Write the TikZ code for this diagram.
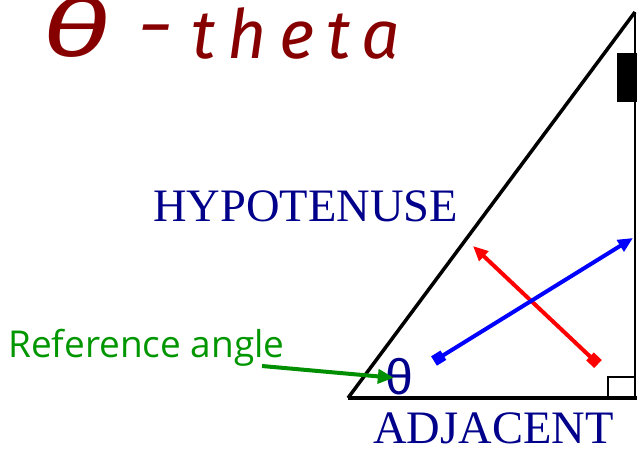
\documentclass[tikz,border=0pt]{standalone}
\usepackage{fontspec}
\setmainfont{Liberation Serif}
\newfontfamily\thetafont{Liberation Sans}
\newfontfamily\notefont{Open Sans}
\newfontfamily\handfont{Fira Sans}[LetterSpace=18]
\newfontfamily\handthetafont{Fira Sans}
\usetikzlibrary{arrows.meta}
\definecolor{sidenavy}{RGB}{0,0,139}
\definecolor{notegreen}{RGB}{0,150,0}
\definecolor{inkred}{RGB}{135,0,0}
\tikzset{
  sidelabel/.style={text=sidenavy,font=\fontsize{46.5}{50}\selectfont,inner sep=0pt},
  handtext/.style={text=inkred,inner sep=0pt},
  pointer/.style={line width=4pt,-{Triangle[length=16pt,width=14pt]}},
  twoway/.style={line width=4pt,{Triangle[length=15pt,width=13pt]}-{Square[length=11pt,width=11pt]}}
}
\begin{document}
\begin{tikzpicture}[x=1pt,y=-1pt]
  \clip (0,0) rectangle (637,450);
  % triangle
  \coordinate (A) at (348,398);
  \coordinate (B) at (637,398);
  \coordinate (C) at (635,12);
  \coordinate (D) at (635,398);
  \draw[line width=3.5pt] (A) -- (C);
  \draw[line width=2.5pt] (C) -- (D);
  \draw[line width=4.5pt] (A) -- (B);
  \fill (617,53) rectangle (640,102);
  \draw[line width=1.5pt] (608,377) rectangle (D);
  % labels
  \node[sidelabel,anchor=base west] (hyp) at (153,221) {HYPOTENUSE};
  \node[sidelabel,anchor=base west] (adj) at (373,443) {ADJACENT};
  \node[text=sidenavy,font=\thetafont\fontsize{50}{54}\selectfont,inner sep=0pt] (theta) at (399,377) {θ};
  \node[text=notegreen,font=\notefont\fontsize{37}{40}\selectfont,inner sep=0pt,anchor=base west] (note) at (8,357) {Reference angle};
  % handwriting
  \node[handtext,font=\handthetafont\itshape\fontsize{80}{80}\selectfont,xscale=1.5,anchor=base] (hth) at (76,56) {θ};
  \node[handtext,font=\handthetafont\itshape\fontsize{70}{70}\selectfont,xscale=1.3,anchor=base] (dash) at (156,49) {-};
  \node[handtext,font=\handfont\itshape\fontsize{68}{68}\selectfont,anchor=base west] (word) at (191,58) {theta};
  % arrows
  \coordinate (g1) at (262,366);
  \coordinate (r1) at (473,246);
  \coordinate (r2) at (598,364);
  \coordinate (b1) at (434,361);
  \coordinate (b2) at (633,238);
  \draw[pointer,notegreen!95!black,shorten >=-9pt] (g1) -- (theta.west);
  \draw[twoway,red] (r1) -- (r2);
  \draw[twoway,blue,{Square[length=11pt,width=11pt]}-{Triangle[length=15pt,width=13pt]}] (b1) -- (b2);
\end{tikzpicture}
\end{document}
